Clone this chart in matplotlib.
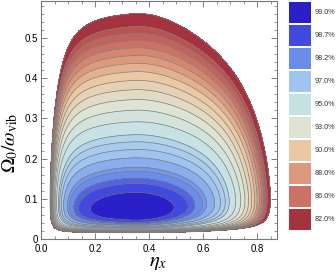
import numpy as np
import matplotlib
matplotlib.use("Agg")
import matplotlib.pyplot as plt
from matplotlib.ticker import MultipleLocator, FixedLocator, FixedFormatter

plt.rcParams['font.family'] = ['Liberation Sans', 'DejaVu Sans']
plt.rcParams['mathtext.fontset'] = 'stix'

# legend entries (fidelity in %) and their swatch colours
legend_values = [99.0, 98.7, 98.2, 97.0, 95.0, 93.0, 90.0, 88.0, 86.0, 82.0]
legend_colors = ["#2b1fc9", "#4249df", "#6b8dea", "#9fc4ef", "#c7e2e4",
                 "#dfe3d3", "#e9c8a3", "#dd997d", "#cc7265", "#a5333f"]

# fidelity contour levels
contour_levels = [0.82, 0.84, 0.85, 0.86, 0.87, 0.88, 0.89, 0.90, 0.91, 0.92,
                  0.93, 0.94, 0.95, 0.96, 0.965, 0.97, 0.975, 0.98, 0.982,
                  0.985, 0.987, 0.99]

# error-budget model, parameters
eta_peak = 0.34      # eta of best fidelity
omega_floor = 0.015  # lower edge of the region
eta_floor = 0.03     # left edge of the region
err_base = 0.0017
err_floor = 0.19
err_left = 0.18
top_coef = 0.55
top_skew = 4.0
width_coef = 0.06
right_coef = 8.0
cross_coef = 2.2
corner_left = 1.0
corner_right = 1.8


def infidelity(eta, om):
    lo = eta_floor / eta
    bo = omega_floor / om
    d = np.clip(eta - eta_peak, 0, None)
    e_bottom = err_floor * bo ** 3
    e_left = err_left * lo ** 3
    e_top = top_coef * om ** 2 * (1 + top_skew * lo ** 2)
    e_width = width_coef * (eta - eta_peak) ** 2
    e_right = right_coef * d ** 6 + cross_coef * d ** 2 * om ** 2
    e_corner = corner_left * lo ** 2 * bo ** 2 + corner_right * d ** 2 * bo ** 2
    return err_base + e_bottom + e_left + e_top + e_width + e_right + e_corner


def band_color(v):
    xs = np.array(legend_values[::-1]) / 100
    rgb = np.array([matplotlib.colors.to_rgb(c) for c in legend_colors[::-1]])
    return tuple(np.interp(v, xs, rgb[:, k]) for k in range(3))


eta = np.linspace(0.003, 0.875, 700)
om = np.linspace(0.003, 0.592, 700)
E, W = np.meshgrid(eta, om)
F = 1 - infidelity(E, W)

fig = plt.figure(figsize=(3.36, 2.73), dpi=100)
ax = fig.add_axes([41 / 336, 34 / 273, 236 / 336, 238 / 273])

lev = contour_levels + [1.0]
cols = [band_color(v) for v in contour_levels]
ax.contourf(E, W, F, levels=lev, colors=cols)
ax.contour(E, W, F, levels=contour_levels, colors='#7d7d7d', linewidths=0.5)

ax.set_xlim(0, 0.874)
ax.set_ylim(0, 0.592)
ax.xaxis.set_major_locator(FixedLocator([0, 0.2, 0.4, 0.6, 0.8]))
ax.xaxis.set_major_formatter(FixedFormatter(["0.0", "0.2", "0.4", "0.6", "0.8"]))
ax.xaxis.set_minor_locator(MultipleLocator(0.05))
ax.yaxis.set_major_locator(FixedLocator([0, 0.1, 0.2, 0.3, 0.4, 0.5]))
ax.yaxis.set_major_formatter(FixedFormatter(["0", "0.1", "0.2", "0.3", "0.4", "0.5"]))
ax.yaxis.set_minor_locator(MultipleLocator(0.02))
ax.tick_params(which='both', direction='in', top=True, right=True,
               color='#666666', labelsize=7)
ax.tick_params(axis='x', pad=3.5)
ax.tick_params(axis='y', pad=2)
ax.tick_params(which='major', length=4, width=0.6)
ax.tick_params(which='minor', length=2, width=0.5)
for s in ax.spines.values():
    s.set_color('#777777')
    s.set_linewidth(0.8)

fig.text(158 / 336, 10 / 273, r"$\eta_x$", fontsize=15, ha='center', va='center')
fig.text(10 / 336, 130 / 273, r"$\Omega_0/\omega_{\mathrm{vib}}$", fontsize=14,
         rotation=90, ha='center', va='center')

# legend swatches
lax = fig.add_axes([289 / 336, 42 / 273, 22 / 336, 230 / 273])
idx = np.arange(len(legend_values))
lax.barh(idx, np.ones(len(idx)), height=0.92, color=legend_colors)
for i, v in zip(idx, legend_values):
    lax.text(1.18, i, f"{v:.1f}%", fontsize=5.2, va='center', ha='left',
             color='#333333')
lax.set_xlim(0, 1)
lax.set_ylim(len(idx) - 0.5, -0.5)
lax.axis('off')

fig.savefig("out.png", dpi=100)
